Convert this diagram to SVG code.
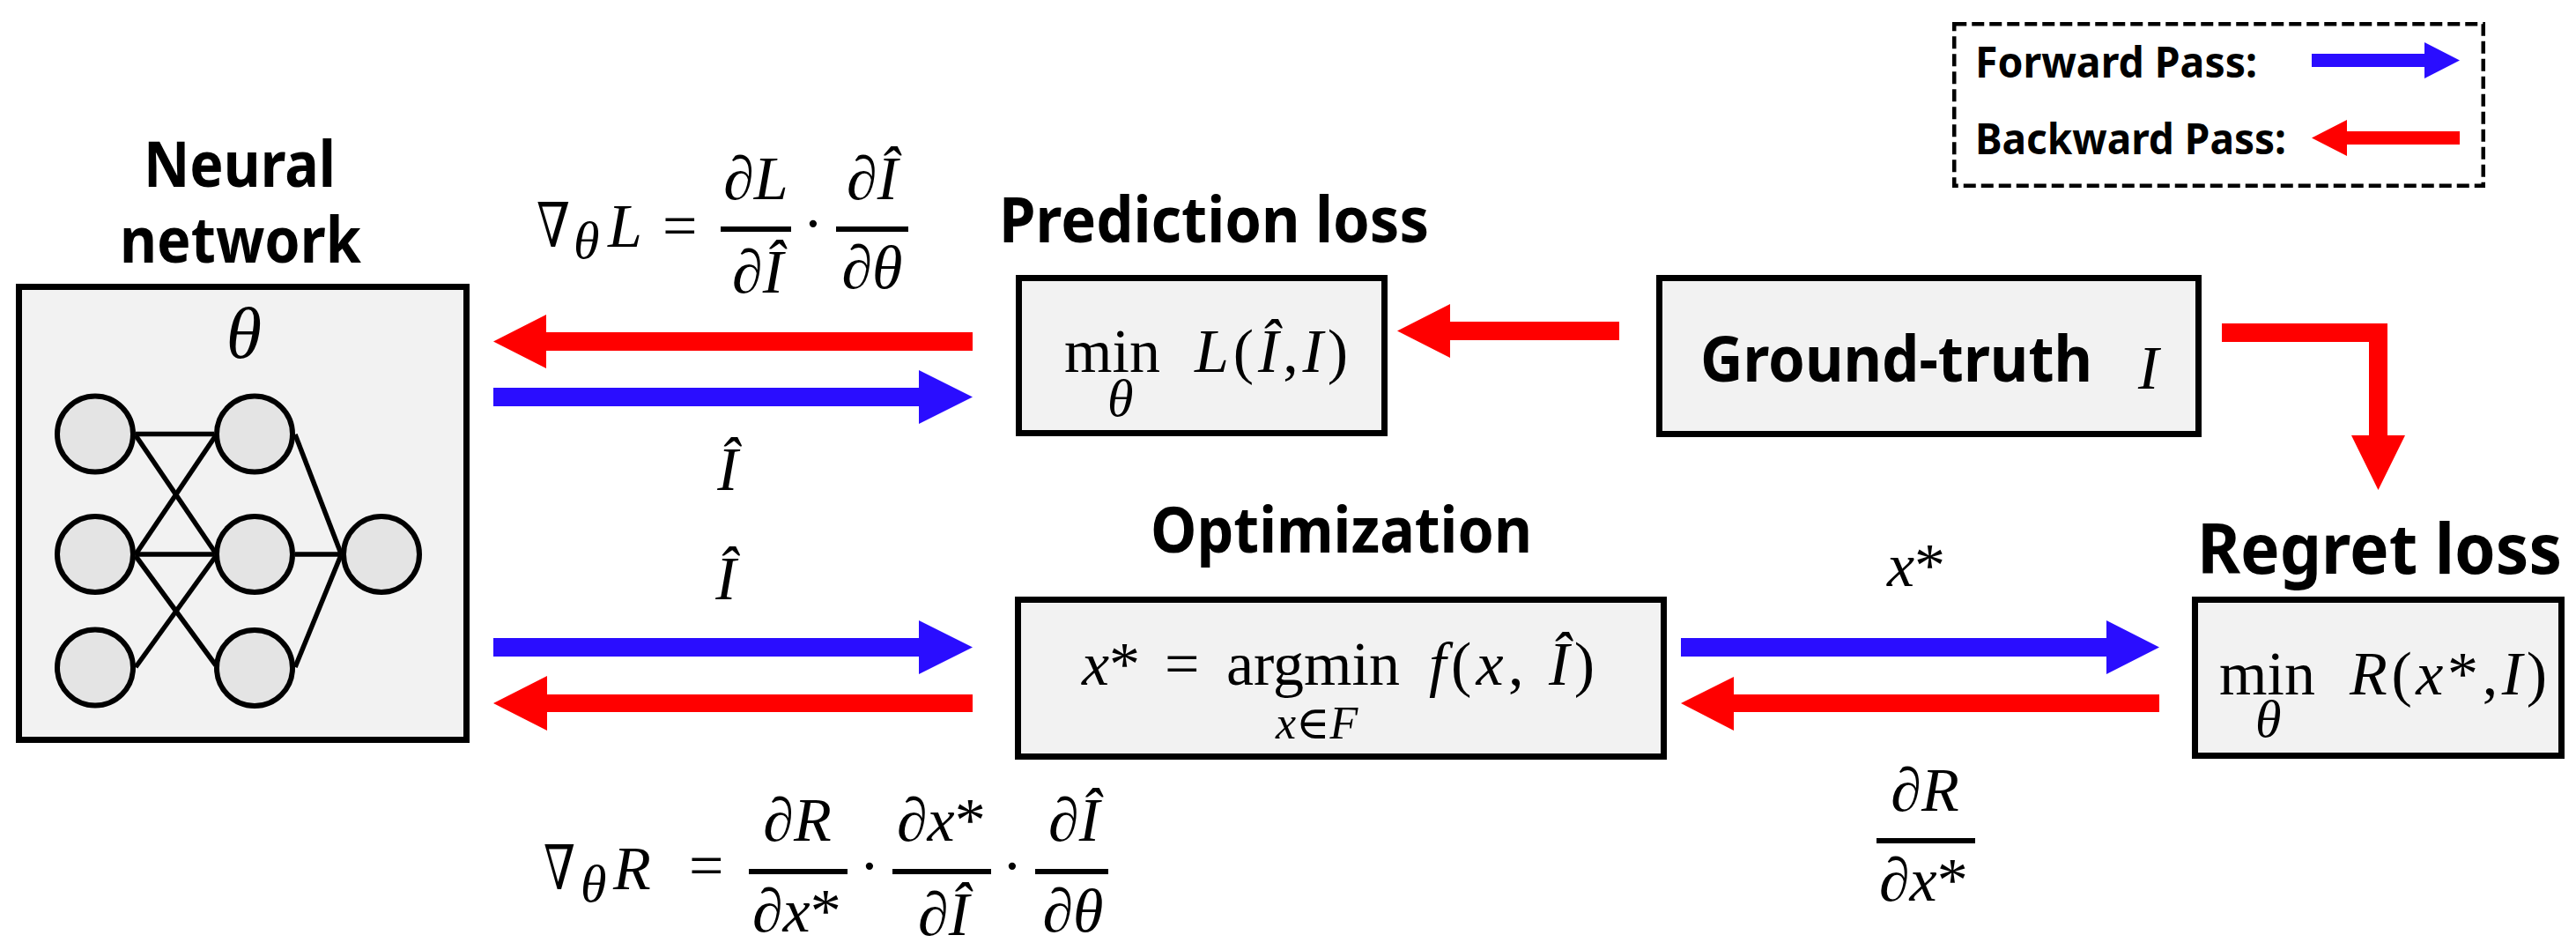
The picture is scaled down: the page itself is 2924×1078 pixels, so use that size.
<svg xmlns="http://www.w3.org/2000/svg" width="2924" height="1078" viewBox="0 0 2924 1078">
<style>
.hd{font-family:"Noto Sans","Open Sans","Liberation Sans",sans-serif;font-weight:700;fill:#000}
.mt{font-family:"Liberation Serif","DejaVu Serif",serif;font-size:70px;fill:#000}
.it{font-style:italic}
.sub{font-size:60px}
.box{fill:#f2f2f2;stroke:#000;stroke-width:7}
.neu{fill:#e4e4e4;stroke:#000;stroke-width:6}
.edge{stroke:#000;stroke-width:5.5;fill:none}
.fb{stroke:#000;stroke-width:6}
.red{fill:#ff0000}
.blue{fill:#2a0dff}
</style>
<rect width="2924" height="1078" fill="#fff"/>

<g id="legend">
<rect x="2218.25" y="27.25" width="600.5" height="183.5" fill="none" stroke="#000" stroke-width="4.5" stroke-dasharray="14 6"/>
<text class="hd" x="2242" y="88" font-size="48" textLength="320" lengthAdjust="spacingAndGlyphs">Forward Pass:</text>
<polygon class="blue" points="2624,61 2752,61 2752,48 2792,68.5 2752,89 2752,76 2624,76"/>
<text class="hd" x="2242" y="175" font-size="48" textLength="353" lengthAdjust="spacingAndGlyphs">Backward Pass:</text>
<polygon class="red" points="2792,149 2664,149 2664,136 2624,156.5 2664,177 2664,164 2792,164"/>
</g>

<g id="neural-network">
<text class="hd" x="163" y="212" font-size="72" textLength="218" lengthAdjust="spacingAndGlyphs">Neural</text>
<text class="hd" x="136" y="298" font-size="72" textLength="274" lengthAdjust="spacingAndGlyphs">network</text>
<rect class="box" x="21.5" y="325.5" width="508" height="514"/>
<text class="mt it" x="277" y="406" text-anchor="middle" style="font-size:82px">θ</text>
<line class="edge" x1="154" y1="492.5" x2="243" y2="492.5"/>
<line class="edge" x1="154" y1="494" x2="245" y2="628"/>
<line class="edge" x1="154" y1="629" x2="245" y2="494"/>
<line class="edge" x1="154" y1="629" x2="243" y2="629"/>
<line class="edge" x1="154" y1="631" x2="245" y2="755"/>
<line class="edge" x1="154" y1="757" x2="245" y2="631"/>
<line class="edge" x1="335" y1="493" x2="387" y2="628"/>
<line class="edge" x1="335" y1="629" x2="387" y2="629"/>
<line class="edge" x1="335" y1="757" x2="387" y2="630"/>
<circle class="neu" cx="108" cy="492.5" r="43"/>
<circle class="neu" cx="108" cy="629" r="43"/>
<circle class="neu" cx="108" cy="757.5" r="43"/>
<circle class="neu" cx="289" cy="492.5" r="43"/>
<circle class="neu" cx="289" cy="629" r="43"/>
<circle class="neu" cx="289" cy="758" r="43"/>
<circle class="neu" cx="433" cy="629" r="43"/>
</g>

<g id="prediction-loss">
<text class="hd" x="1134" y="275" font-size="72" textLength="488" lengthAdjust="spacingAndGlyphs">Prediction loss</text>
<rect class="box" x="1156.5" y="315.5" width="415" height="176"/>
<text class="mt"><tspan x="1208" y="422">min</tspan><tspan class="it sub" x="1257" y="472">θ</tspan></text>
<text class="mt" x="1356" y="422" textLength="174"><tspan class="it">L</tspan>(<tspan class="it">Î</tspan>,<tspan class="it">I</tspan>)</text>
</g>

<g id="ground-truth">
<rect class="box" x="1883.5" y="315.5" width="612" height="177"/>
<text class="hd" x="1930" y="433" font-size="72" textLength="445" lengthAdjust="spacingAndGlyphs">Ground-truth</text>
<text class="mt it" x="2427" y="441">I</text>
</g>

<g id="optimization">
<text class="hd" x="1306" y="627" font-size="72" textLength="433" lengthAdjust="spacingAndGlyphs">Optimization</text>
<rect class="box" x="1155.5" y="680.5" width="733" height="178"/>
<text class="mt" x="1228" y="777"><tspan class="it">x</tspan>*</text>
<text class="mt" x="1322" y="777">=</text>
<text class="mt"><tspan x="1392" y="777">argmin</tspan><tspan class="it" x="1448" y="838" style="font-size:52px">x∈F</tspan></text>
<text class="mt" x="1622" y="777" textLength="188"><tspan class="it">f</tspan>(<tspan class="it">x</tspan>, <tspan class="it">Î</tspan>)</text>
</g>

<g id="regret-loss">
<text class="hd" x="2494" y="651" font-size="78" textLength="414" lengthAdjust="spacingAndGlyphs">Regret loss</text>
<rect class="box" x="2491.5" y="680.5" width="416" height="177"/>
<text class="mt"><tspan x="2519" y="788">min</tspan><tspan class="it sub" x="2560" y="836">θ</tspan></text>
<text class="mt" x="2667" y="788" textLength="224"><tspan class="it">R</tspan>(<tspan class="it">x</tspan>*,<tspan class="it">I</tspan>)</text>
</g>

<g id="connectors">
<polygon class="red" points="1104,377 620,377 620,357 560,387.5 620,418 620,398 1104,398"/>
<polygon class="blue" points="560,440 1043,440 1043,420 1104,450.5 1043,481 1043,461 560,461"/>
<polygon class="red" points="1838,365 1646,365 1646,345 1586,375.5 1646,406 1646,386 1838,386"/>
<polygon class="red" points="2522,367 2710,367 2710,494 2730,494 2699.5,556 2669,494 2689,494 2689,388 2522,388"/>
<polygon class="blue" points="560,724 1043,724 1043,704 1104,734.5 1043,765 1043,745 560,745"/>
<polygon class="red" points="1104,788 621,788 621,767 560,798 621,829 621,808 1104,808"/>
<polygon class="blue" points="1908,724 2391,724 2391,704 2451,734.5 2391,765 2391,745 1908,745"/>
<polygon class="red" points="2451,788 1968,788 1968,768 1908,798 1968,829 1968,808 2451,808"/>

<g id="label-grad-L">
<text class="mt"><tspan x="609" y="280" textLength="38" lengthAdjust="spacingAndGlyphs">∇</tspan><tspan class="it sub" x="651" y="293">θ</tspan><tspan class="it" x="690" y="280">L</tspan><tspan x="752" y="280">=</tspan></text>
<line class="fb" x1="818" y1="260" x2="898" y2="260"/>
<text class="mt" x="858" y="226" text-anchor="middle">∂<tspan class="it">L</tspan></text>
<text class="mt" x="860" y="332" text-anchor="middle">∂<tspan class="it">Î</tspan></text>
<text class="mt" x="923" y="277" text-anchor="middle">·</text>
<line class="fb" x1="949" y1="260" x2="1031" y2="260"/>
<text class="mt" x="990" y="226" text-anchor="middle">∂<tspan class="it">Î</tspan></text>
<text class="mt" x="990" y="327" text-anchor="middle">∂<tspan class="it">θ</tspan></text>
</g>
<text class="mt it" x="826" y="556" text-anchor="middle">Î</text>
<text class="mt it" x="824" y="680" text-anchor="middle">Î</text>
<text class="mt" x="2142" y="665"><tspan class="it">x</tspan>*</text>

<g id="label-grad-R">
<text class="mt"><tspan x="617" y="1009" textLength="36" lengthAdjust="spacingAndGlyphs">∇</tspan><tspan class="it sub" x="659" y="1023">θ</tspan><tspan class="it" x="696" y="1009">R</tspan><tspan x="782" y="1006">=</tspan></text>
<line class="fb" x1="850" y1="989" x2="962" y2="989"/>
<text class="mt" x="905" y="954" text-anchor="middle">∂<tspan class="it">R</tspan></text>
<text class="mt" x="854" y="1057">∂<tspan class="it">x</tspan>*</text>
<text class="mt" x="987" y="1006" text-anchor="middle">·</text>
<line class="fb" x1="1013" y1="989" x2="1125" y2="989"/>
<text class="mt" x="1018" y="954">∂<tspan class="it">x</tspan>*</text>
<text class="mt" x="1071" y="1061" text-anchor="middle">∂<tspan class="it">Î</tspan></text>
<text class="mt" x="1149" y="1006" text-anchor="middle">·</text>
<line class="fb" x1="1175" y1="989" x2="1258" y2="989"/>
<text class="mt" x="1219" y="954" text-anchor="middle">∂<tspan class="it">Î</tspan></text>
<text class="mt" x="1218" y="1057" text-anchor="middle">∂<tspan class="it">θ</tspan></text>
</g>

<g id="label-dR-dx">
<line class="fb" x1="2130" y1="954" x2="2242" y2="954"/>
<text class="mt" x="2185" y="920" text-anchor="middle">∂<tspan class="it">R</tspan></text>
<text class="mt" x="2133" y="1022">∂<tspan class="it">x</tspan>*</text>
</g>
</g>
</svg>
